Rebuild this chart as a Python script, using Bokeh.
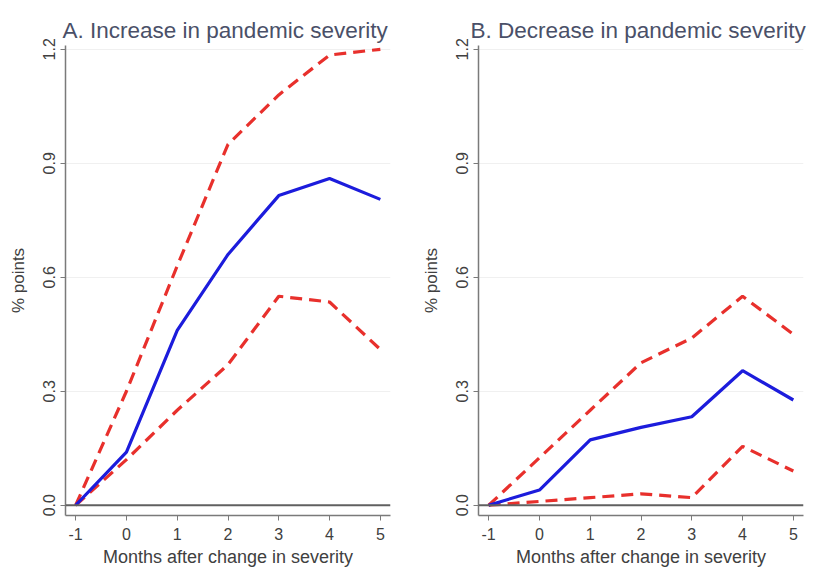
from bokeh.plotting import figure
from bokeh.layouts import row
from bokeh.models import FixedTicker, Span, NumeralTickFormatter, Range1d
from bokeh.embed import file_html
from bokeh.resources import INLINE

# Months relative to the change in severity
months = [-1, 0, 1, 2, 3, 4, 5]
month_labels = ["-1", "0", "1", "2", "3", "4", "5"]

# Panel A: increase in pandemic severity (estimate and confidence bounds, % points)
inc_est = [0.0, 0.14, 0.46, 0.66, 0.815, 0.86, 0.805]
inc_hi = [0.0, 0.30, 0.63, 0.95, 1.08, 1.185, 1.20]
inc_lo = [0.0, 0.12, 0.25, 0.37, 0.55, 0.535, 0.41]

# Panel B: decrease in pandemic severity
dec_est = [0.0, 0.04, 0.172, 0.205, 0.233, 0.354, 0.277]
dec_hi = [0.0, 0.125, 0.25, 0.375, 0.44, 0.55, 0.45]
dec_lo = [0.0, 0.01, 0.02, 0.03, 0.02, 0.155, 0.09]

y_ticks = [0.0, 0.3, 0.6, 0.9, 1.2]

FONT = "Liberation Sans"
BLUE = "#1c1cdc"
RED = "#e8302c"
AXIS = "#7a7a7a"
TEXT = "#404040"


def panel(title, est, hi, lo, border_left, width, title_offset):
    p = figure(
        width=width, height=569,
        x_range=Range1d(-1.2, 5.2), y_range=Range1d(-0.027, 1.21),
        output_backend="svg", toolbar_location=None,
        min_border_left=border_left, min_border_right=width - border_left - 325,
        min_border_top=45, min_border_bottom=53,
        background_fill_color="white", border_fill_color="white",
    )
    p.outline_line_color = None

    p.title.text = title
    p.title.text_font = FONT
    p.title.text_font_size = "22.5px"
    p.title.text_font_style = "normal"
    p.title.text_color = "#4a5068"
    p.title.align = "left"
    p.title.offset = title_offset
    p.title.standoff = 6

    # faint horizontal grid
    p.xgrid.grid_line_color = None
    p.ygrid.grid_line_color = "#f0f0f0"
    p.ygrid.ticker = FixedTicker(ticks=y_ticks)

    # x axis
    xa = p.xaxis[0]
    xa.ticker = FixedTicker(ticks=months)
    xa.major_label_overrides = dict(zip(months, month_labels))
    xa.axis_label = "Months after change in severity"
    xa.axis_label_text_font = FONT
    xa.axis_label_text_font_size = "18px"
    xa.axis_label_text_font_style = "normal"
    xa.axis_label_text_color = TEXT
    xa.axis_label_standoff = 4
    xa.major_label_text_font = FONT
    xa.major_label_text_font_size = "16px"
    xa.major_label_text_color = TEXT
    xa.major_label_standoff = 7
    xa.axis_line_color = AXIS
    xa.axis_line_width = 1.5
    xa.major_tick_line_color = AXIS
    xa.major_tick_out = 5
    xa.major_tick_in = 0
    xa.minor_tick_line_color = None

    # y axis
    ya = p.yaxis[0]
    ya.ticker = FixedTicker(ticks=y_ticks)
    ya.formatter = NumeralTickFormatter(format="0.0")
    ya.axis_label = "% points"
    ya.axis_label_text_font = FONT
    ya.axis_label_text_font_size = "17px"
    ya.axis_label_text_font_style = "normal"
    ya.axis_label_text_color = TEXT
    ya.axis_label_standoff = 13
    ya.major_label_orientation = "vertical"
    ya.major_label_text_font = FONT
    ya.major_label_text_font_size = "16px"
    ya.major_label_text_color = TEXT
    ya.major_label_standoff = 5
    ya.axis_line_color = AXIS
    ya.axis_line_width = 1.5
    ya.major_tick_line_color = AXIS
    ya.major_tick_out = 5
    ya.major_tick_in = 0
    ya.minor_tick_line_color = None

    # zero reference line
    p.add_layout(Span(location=0, dimension="width", line_color="#606060", line_width=2))

    p.line(months, hi, line_color=RED, line_width=3.2, line_dash="12 7")
    p.line(months, lo, line_color=RED, line_width=3.2, line_dash="12 7")
    p.line(months, est, line_color=BLUE, line_width=3.2)
    return p


left = panel("A. Increase in pandemic severity", inc_est, inc_hi, inc_lo, 65, 408, -3)
right = panel("B. Decrease in pandemic severity", dec_est, dec_hi, dec_lo, 70, 407, -8)

layout = row(left, right)
open("out.html", "w").write(file_html(layout, INLINE))
